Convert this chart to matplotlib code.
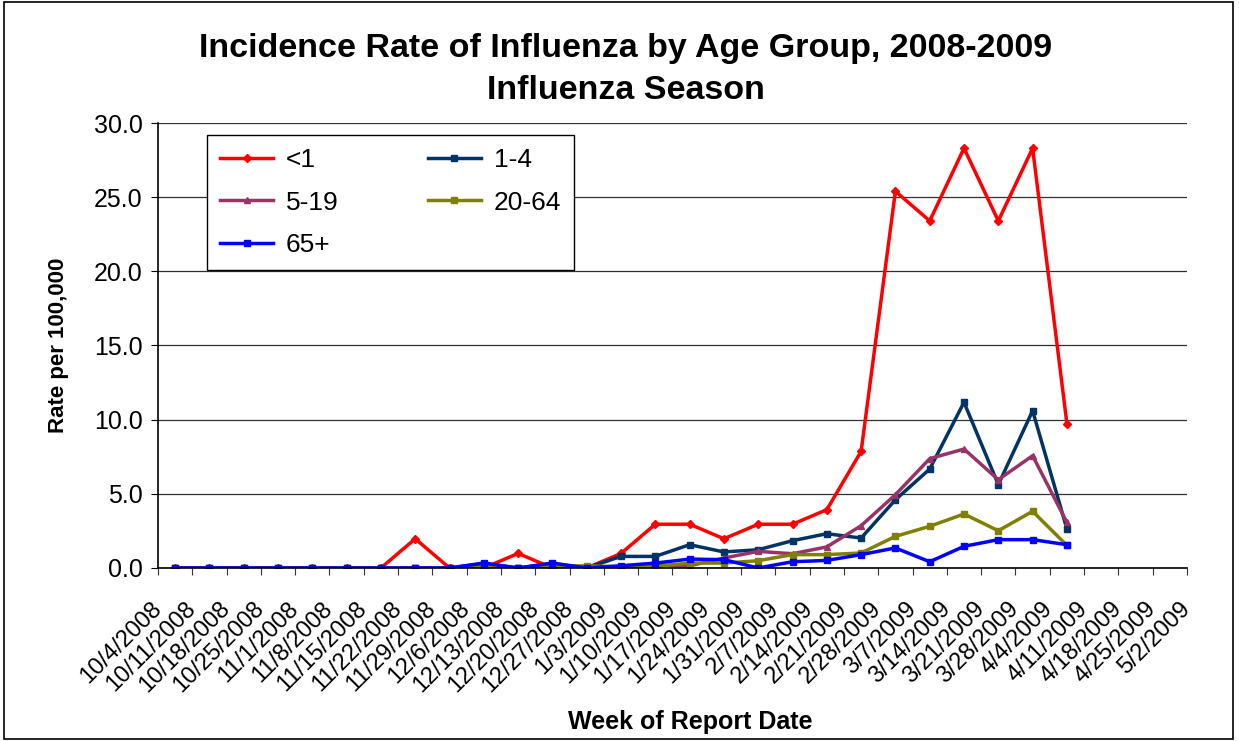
import matplotlib.pyplot as plt
from matplotlib.patches import Rectangle

plt.rcParams['font.family'] = ['Liberation Sans', 'DejaVu Sans']

# week labels on the category axis
weeks = ['10/4/2008', '10/11/2008', '10/18/2008', '10/25/2008', '11/1/2008',
         '11/8/2008', '11/15/2008', '11/22/2008', '11/29/2008', '12/6/2008',
         '12/13/2008', '12/20/2008', '12/27/2008', '1/3/2009', '1/10/2009',
         '1/17/2009', '1/24/2009', '1/31/2009', '2/7/2009', '2/14/2009',
         '2/21/2009', '2/28/2009', '3/7/2009', '3/14/2009', '3/21/2009',
         '3/28/2009', '4/4/2009', '4/11/2009', '4/18/2009', '4/25/2009',
         '5/2/2009']
n_cat = 30

# rate per 100,000 (27 reported weeks)
under1 = [0, 0, 0, 0, 0, 0, 0, 1.97, 0, 0, 0.98, 0, 0, 0.98, 2.95, 2.95, 1.97,
          2.95, 2.95, 3.93, 7.86, 25.4, 23.4, 28.3, 23.4, 28.3, 9.73]
age1_4 = [0, 0, 0, 0, 0, 0, 0, 0, 0, 0.3, 0, 0.3, 0, 0.78, 0.78, 1.57, 1.08,
          1.23, 1.84, 2.31, 2.02, 4.6, 6.67, 11.17, 5.62, 10.6, 2.63]
age5_19 = [0, 0, 0, 0, 0, 0, 0, 0, 0, 0, 0, 0, 0, 0.1, 0.2, 0.15, 0.67,
           1.12, 0.96, 1.42, 2.85, 4.94, 7.37, 8.02, 5.95, 7.57, 3.07]
age20_64 = [0, 0, 0, 0, 0, 0, 0, 0, 0, 0.1, 0, 0.1, 0.15, 0.07, 0.1, 0.33, 0.33,
            0.49, 0.9, 0.9, 1.01, 2.13, 2.81, 3.64, 2.51, 3.82, 1.52]
age65 = [0, 0, 0, 0, 0, 0, 0, 0, 0, 0.33, 0, 0.33, 0, 0.15, 0.33, 0.6, 0.56,
         0, 0.42, 0.51, 0.9, 1.35, 0.42, 1.46, 1.91, 1.91, 1.57]

series = [
    ('<1', under1, '#FF0000', 'D', 4),
    ('1-4', age1_4, '#003366', 's', 4.5),
    ('5-19', age5_19, '#993366', '^', 5),
    ('20-64', age20_64, '#808000', 's', 4.5),
    ('65+', age65, '#0000FF', 's', 4.5),
]

fig = plt.figure(figsize=(12.39, 7.41), dpi=100)
ax = fig.add_axes([0.1275, 0.2335, 0.8305, 0.6005])

lines = {}
for name, vals, col, mk, ms in series:
    x = list(range(len(vals)))
    ln, = ax.plot(x, vals, color=col, lw=2.5, marker=mk, ms=ms, label=name)
    lines[name] = ln

ax.set_xlim(-0.5, n_cat - 0.5)
ax.set_ylim(0, 30)
ax.set_yticks([0, 5, 10, 15, 20, 25, 30])
ax.set_yticklabels([f'{v:.1f}' for v in [0, 5, 10, 15, 20, 25, 30]], fontsize=18)
ax.set_xticks([i - 0.5 for i in range(len(weeks))])
ax.set_xticklabels(weeks, rotation=45, ha='right', va='center',
                   rotation_mode='anchor', fontsize=17)
ax.tick_params(axis='x', length=5, pad=22, color='#333333')
ax.tick_params(axis='y', length=5, pad=6)
ax.grid(axis='y', color='#303030', lw=0.9)
ax.set_axisbelow(True)
for s in ['top', 'right']:
    ax.spines[s].set_visible(False)
for s in ['left', 'bottom']:
    ax.spines[s].set_linewidth(1.2)

ax.set_xlabel('Week of Report Date', fontsize=18, fontweight='bold')
ax.xaxis.set_label_coords(0.517, -0.319)
ax.set_ylabel('Rate per 100,000', fontsize=16, fontweight='bold', labelpad=18)

order = ['<1', '5-19', '65+', '1-4', '20-64']
leg = ax.legend([lines[k] for k in order], order, ncol=2, fontsize=19,
                loc='upper left', bbox_to_anchor=(0.0476, 0.661, 0.357, 0.312),
                mode='expand', borderaxespad=0, borderpad=0.5,
                labelspacing=0.7, handlelength=2.0, handletextpad=0.5,
                numpoints=1, fancybox=False, framealpha=1)
leg.get_frame().set_edgecolor('black')
leg.get_frame().set_linewidth(1.0)

fig.text(0.505, 0.935, 'Incidence Rate of Influenza by Age Group, 2008-2009',
         ha='center', va='center', fontsize=24.5, fontweight='bold')
fig.text(0.505, 0.878, 'Influenza Season',
         ha='center', va='center', fontsize=24.5, fontweight='bold')

fig.patches.append(Rectangle((0.003, 0.003), 0.992, 0.994, transform=fig.transFigure,
                             fill=False, edgecolor='black', lw=1.2))

fig.savefig('out.png', dpi=100)
